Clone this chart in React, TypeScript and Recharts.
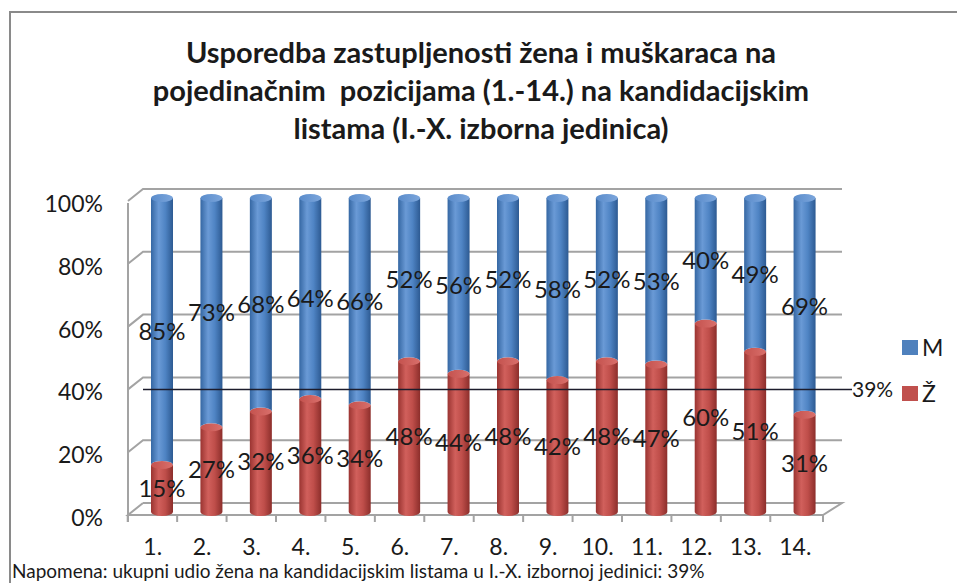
import React from 'react';
import { BarChart, Bar, XAxis, YAxis, CartesianGrid, ReferenceLine, LabelList } from 'recharts';

const positions = ['1.', '2.', '3.', '4.', '5.', '6.', '7.', '8.', '9.', '10.', '11.', '12.', '13.', '14.'];
const womenShare = [15, 27, 32, 36, 34, 48, 44, 48, 42, 48, 47, 60, 51, 31];
const menShare = [85, 73, 68, 64, 66, 52, 56, 52, 58, 52, 53, 40, 49, 69];
const yTicks = [0, 20, 40, 60, 80, 100];
const totalWomenShare = 39;
const titleLines = [
  'Usporedba zastupljenosti žena i muškaraca na',
  'pojedinačnim  pozicijama (1.-14.) na kandidacijskim',
  'listama (I.-X. izborna jedinica)',
];
const noteText = 'Napomena: ukupni udio žena na kandidacijskim listama u I.-X. izbornoj jedinici: 39%';
const menName = 'M';
const womenName = 'Ž';

const data = positions.map((p, i) => ({ pos: p, z: womenShare[i], m: menShare[i] }));

const FONT = 'Lato, "Open Sans", sans-serif';
const TEXT = '#1a1a1a';
const GRID = '#a3a3a3';
const DEPTH_X = 15;
const DEPTH_UP = 9;
const DEPTH_DOWN = 3;

const CylMen = (props: any) => {
  const { x, y, width, height } = props;
  if (!height || height <= 0) return null;
  const rx = width / 2;
  const ry = 4;
  const bottom = y + height;
  const d = `M${x},${y} L${x},${bottom} A${rx},${ry} 0 0 1 ${x + width},${bottom} L${x + width},${y} Z`;
  return (
    <g>
      <path d={d} fill="url(#gradM)" />
      <ellipse cx={x + rx} cy={y} rx={rx} ry={ry} fill="url(#gradMTop)" />
    </g>
  );
};

const CylWomen = (props: any) => {
  const { x, y, width, height } = props;
  if (!height || height <= 0) return null;
  const rx = width / 2;
  const ry = 4;
  const bottom = y + height;
  const d = `M${x},${y} L${x},${bottom} A${rx},${ry} 0 0 0 ${x + width},${bottom} L${x + width},${y} Z`;
  return (
    <g>
      <path d={d} fill="url(#gradZ)" />
      <ellipse cx={x + rx} cy={y} rx={rx} ry={ry} fill="url(#gradZTop)" />
    </g>
  );
};

const gridLine = (props: any) => {
  const { x1, x2, y1, y, height, key } = props;
  const isFloor = Math.abs(y1 - (y + height)) < 1;
  const backRight = x2 - 10;
  if (isFloor) {
    const frontRight = x2 - 29;
    const d = `M${x1 + DEPTH_X},${y1 - DEPTH_UP} L${backRight},${y1 - DEPTH_UP} L${frontRight},${y1 + DEPTH_DOWN} L${x1},${y1 + DEPTH_DOWN} L${x1 + DEPTH_X},${y1 - DEPTH_UP}`;
    return (
      <g key={key}>
        <path d={d} fill="none" stroke={GRID} strokeWidth={2} />
        <line x1={x1} y1={y + 5} x2={x1} y2={y1 + 10} stroke={GRID} strokeWidth={2} />
        <line x1={frontRight} y1={y1 + DEPTH_DOWN} x2={frontRight} y2={y1 + 10} stroke={GRID} strokeWidth={2} />
      </g>
    );
  }
  const d = `M${x1},${y1 + DEPTH_DOWN} L${x1 + DEPTH_X},${y1 - DEPTH_UP} L${backRight},${y1 - DEPTH_UP}`;
  return <path key={key} d={d} fill="none" stroke={GRID} strokeWidth={2} />;
};

const XTick = (props: any) => {
  const { x, y, payload } = props;
  return (
    <g>
      <line x1={x - 34} y1={y + DEPTH_DOWN} x2={x - 34} y2={y + 10} stroke={GRID} strokeWidth={2} />
      <text x={x - 9} y={y + 43} textAnchor="middle" fontSize={23} fontFamily={FONT} fill={TEXT}>
        {payload.value}
      </text>
    </g>
  );
};

const YTick = (props: any) => {
  const { x, y, payload } = props;
  return (
    <text x={x} y={y + 6} dy="0.35em" textAnchor="end" fontSize={23} fontFamily={FONT} fill={TEXT}>
      {`${payload.value}%`}
    </text>
  );
};

const refShape = (props: any) => {
  const { x1, x2, y1 } = props;
  return (
    <g>
      <line x1={x1 + DEPTH_X} y1={y1} x2={x2} y2={y1} stroke="#1c1c2c" strokeWidth={1.5} />
      <text x={x2} y={y1} dy="0.35em" fontSize={21} fontFamily={FONT} fill={TEXT}>
        {`${totalWomenShare}%`}
      </text>
    </g>
  );
};

export default function App() {
  return (
    <div
      style={{
        position: 'absolute',
        left: 0,
        top: 0,
        width: 957,
        height: 583,
        overflow: 'hidden',
        background: '#fff',
        fontFamily: FONT,
      }}
    >
      <div
        style={{
          position: 'absolute',
          left: 9,
          top: 11,
          width: 1000,
          height: 700,
          border: '2px solid #8a8a8a',
          boxSizing: 'border-box',
        }}
      />
      <div
        style={{
          position: 'absolute',
          left: 0,
          top: 33,
          width: 962,
          textAlign: 'center',
          fontWeight: 700,
          fontSize: 29,
          lineHeight: '38px',
          color: TEXT,
          whiteSpace: 'pre',
        }}
      >
        {titleLines.map((t, i) => (
          <div key={i}>{t}</div>
        ))}
      </div>
      <div style={{ position: 'absolute', left: 0, top: 0 }}>
        <BarChart
          width={957}
          height={583}
          data={data}
          margin={{ top: 198, right: 105, bottom: 31, left: 0 }}
          barSize={22}
        >
          <defs>
            <linearGradient id="gradM" x1="0" y1="0" x2="1" y2="0">
              <stop offset="0%" stopColor="#3567a3" />
              <stop offset="35%" stopColor="#6a9ad6" />
              <stop offset="65%" stopColor="#4f84c4" />
              <stop offset="100%" stopColor="#2d5a92" />
            </linearGradient>
            <linearGradient id="gradMTop" x1="0" y1="0" x2="1" y2="0">
              <stop offset="0%" stopColor="#5a8ccb" />
              <stop offset="100%" stopColor="#7ca6dc" />
            </linearGradient>
            <linearGradient id="gradZ" x1="0" y1="0" x2="1" y2="0">
              <stop offset="0%" stopColor="#9a3431" />
              <stop offset="35%" stopColor="#d1605c" />
              <stop offset="65%" stopColor="#bf4e4a" />
              <stop offset="100%" stopColor="#8c2e2b" />
            </linearGradient>
            <linearGradient id="gradZTop" x1="0" y1="0" x2="1" y2="0">
              <stop offset="0%" stopColor="#c4524e" />
              <stop offset="100%" stopColor="#d96f6b" />
            </linearGradient>
          </defs>
          <CartesianGrid horizontal={gridLine} vertical={false} />
          <XAxis
            dataKey="pos"
            height={40}
            padding={{ left: 9, right: 23 }}
            axisLine={false}
            tickLine={false}
            tickSize={0}
            tickMargin={0}
            tick={<XTick />}
            interval={0}
          />
          <YAxis
            width={128}
            domain={[0, 100]}
            ticks={yTicks}
            axisLine={false}
            tickLine={false}
            tickSize={0}
            tickMargin={25}
            tick={<YTick />}
          />
          <Bar dataKey="z" name={womenName} stackId="a" shape={<CylWomen />} isAnimationActive={false}>
            <LabelList
              dataKey="z"
              position="center"
              formatter={(v: any) => `${v}%`}
              fill={TEXT}
              fontSize={24}
              fontFamily={FONT}
            />
          </Bar>
          <Bar dataKey="m" name={menName} stackId="a" shape={<CylMen />} isAnimationActive={false}>
            <LabelList
              dataKey="m"
              position="center"
              formatter={(v: any) => `${v}%`}
              fill={TEXT}
              fontSize={24}
              fontFamily={FONT}
            />
          </Bar>
          <ReferenceLine y={totalWomenShare} shape={refShape} ifOverflow="visible" />
        </BarChart>
      </div>
      <div style={{ position: 'absolute', left: 902, top: 336, fontSize: 23, color: TEXT, lineHeight: '22px' }}>
        {[
          { name: menName, color: '#4f81bd' },
          { name: womenName, color: '#c0504d' },
        ].map((s, i) => (
          <div key={i} style={{ display: 'flex', alignItems: 'center', height: 22, marginBottom: i === 0 ? 24 : 0 }}>
            <span style={{ display: 'inline-block', width: 16, height: 15, background: s.color, marginRight: 4 }} />
            <span>{s.name}</span>
          </div>
        ))}
      </div>
      <div
        style={{
          position: 'absolute',
          left: 12,
          top: 560,
          fontSize: 19,
          lineHeight: '22px',
          color: TEXT,
          whiteSpace: 'nowrap',
        }}
      >
        {noteText}
      </div>
    </div>
  );
}
